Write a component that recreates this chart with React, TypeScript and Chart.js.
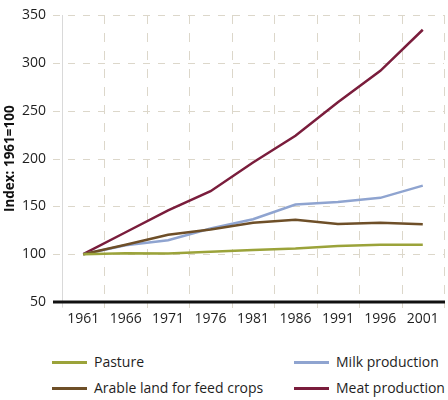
import React, { useEffect, useRef } from "react";
import { Chart, registerables } from "chart.js";

Chart.register(...registerables);

const years = ["1961", "1966", "1971", "1976", "1981", "1986", "1991", "1996", "2001"];
const pasture = [100, 101, 100.8, 102.7, 104.5, 106, 108.5, 109.9, 109.9];
const arable = [100, 110, 120.4, 126, 133, 136, 131.6, 133, 131.3];
const milk = [100, 109.5, 114.7, 127, 136.7, 152, 154.8, 159, 171.8];
const meat = [100, 123, 146, 166, 196, 224, 259, 292, 335];

const seriesNames = ["Pasture", "Arable land for feed crops", "Milk production", "Meat production"];
const seriesColors = ["#9ba33a", "#6e4f28", "#8fa4d0", "#7a1d3c"];

const yMin = 50;
const yMax = 350;
const yStep = 50;
const yTitle = "Index: 1961=100";

const FONT = "'Open Sans', 'DejaVu Sans', sans-serif";
const GRID = "#dcd7ca";

const gridPlugin = {
  id: "dashedGrid",
  beforeDatasetsDraw(chart: any) {
    const { ctx, chartArea, scales } = chart;
    const xs = scales.x;
    const ys = scales.y;
    const { left, right, top, bottom } = chartArea;
    ctx.save();
    ctx.fillStyle = GRID;
    // horizontal dashed grid lines (dash 7, gap 8)
    ys.ticks.forEach((t: any) => {
      if (t.value === yMin) return;
      const y = Math.round(ys.getPixelForValue(t.value));
      for (let x = Math.round(left) - 9; x < right; x += 15) {
        ctx.fillRect(x, y, Math.min(7, right - x), 1);
      }
    });
    // vertical dashed grid lines at category boundaries (dash 9, gap 9)
    for (let i = 1; i <= years.length; i++) {
      const x = Math.round(xs.getPixelForValue(i - 0.5));
      for (let y = Math.round(top); y < bottom + 6; y += 18) {
        ctx.fillRect(x, y, 1, Math.min(9, bottom + 6 - y));
      }
    }
    // left solid border
    ctx.fillStyle = "#d9d9d9";
    ctx.fillRect(Math.round(left), Math.round(top), 1, bottom + 6 - top);
    ctx.restore();
  },
  afterDatasetsDraw(chart: any) {
    const { ctx, chartArea, scales } = chart;
    const ys = scales.y;
    const y = ys.getPixelForValue(yMin);
    ctx.save();
    ctx.strokeStyle = "#111111";
    ctx.lineWidth = 3;
    ctx.beginPath();
    ctx.moveTo(chartArea.left - 9, y);
    ctx.lineTo(chartArea.right + 1, y);
    ctx.stroke();
    ctx.restore();
  },
};

export default function App() {
  const ref = useRef<HTMLCanvasElement | null>(null);

  useEffect(() => {
    if (!ref.current) return;
    const values = [pasture, arable, milk, meat];
    const chart = new Chart(ref.current, {
      type: "line",
      data: {
        labels: years,
        datasets: values.map((v, i) => ({
          label: seriesNames[i],
          data: v,
          borderColor: seriesColors[i],
          backgroundColor: seriesColors[i],
          borderWidth: 2.5,
          pointRadius: 0,
          tension: 0,
          fill: false,
        })),
      },
      plugins: [gridPlugin],
      options: {
        responsive: false,
        animation: false,
        layout: { padding: { top: 8, right: 4, left: 0, bottom: 0 } },
        plugins: {
          legend: { display: false },
          tooltip: { enabled: false },
        },
        scales: {
          x: {
            type: "category",
            offset: true,
            grid: {
              display: true,
              offset: true,
              color: "rgba(0,0,0,0)",
              tickColor: "rgba(0,0,0,0)",
              tickLength: 6,
            },
            border: { display: false },
            ticks: {
              padding: 3,
              color: "#1e1e1e",
              font: { family: FONT, size: 14 },
              maxRotation: 0,
              autoSkip: false,
            },
            afterFit: (s: any) => {
              s.height = 38;
            },
          },
          y: {
            min: yMin,
            max: yMax,
            ticks: {
              stepSize: yStep,
              padding: 7,
              color: "#1e1e1e",
              font: { family: FONT, size: 14 },
            },
            grid: {
              display: true,
              color: "rgba(0,0,0,0)",
              tickColor: "rgba(0,0,0,0)",
              tickLength: 9,
            },
            border: { display: false },
            title: {
              display: true,
              text: yTitle,
              color: "#111111",
              font: { family: FONT, size: 13.5, weight: "bold" },
              padding: { top: 2, bottom: 0 },
            },
            afterFit: (s: any) => {
              s.width = 62;
            },
          },
        },
      },
    });
    return () => chart.destroy();
  }, []);

  const legendItems = [
    { name: seriesNames[0], color: seriesColors[0], x: 52, y: 362 },
    { name: seriesNames[2], color: seriesColors[2], x: 294, y: 362 },
    { name: seriesNames[1], color: seriesColors[1], x: 52, y: 388 },
    { name: seriesNames[3], color: seriesColors[3], x: 294, y: 388 },
  ];

  return (
    <div style={{ position: "absolute", left: 0, top: 0, width: 448, height: 400, background: "#fff", overflow: "hidden" }}>
      <canvas ref={ref} width={448} height={340} style={{ width: 448, height: 340, display: "block" }} />
      {legendItems.map((it) => (
        <div key={it.name}>
          <div
            style={{
              position: "absolute",
              left: it.x,
              top: it.y - 1.5,
              width: 35,
              height: 3,
              background: it.color,
            }}
          />
          <div
            style={{
              position: "absolute",
              left: it.x + 42,
              top: it.y - 10,
              height: 20,
              lineHeight: "20px",
              fontFamily: FONT,
              fontSize: 14,
              color: "#1e1e1e",
              whiteSpace: "nowrap",
            }}
          >
            {it.name}
          </div>
        </div>
      ))}
    </div>
  );
}
